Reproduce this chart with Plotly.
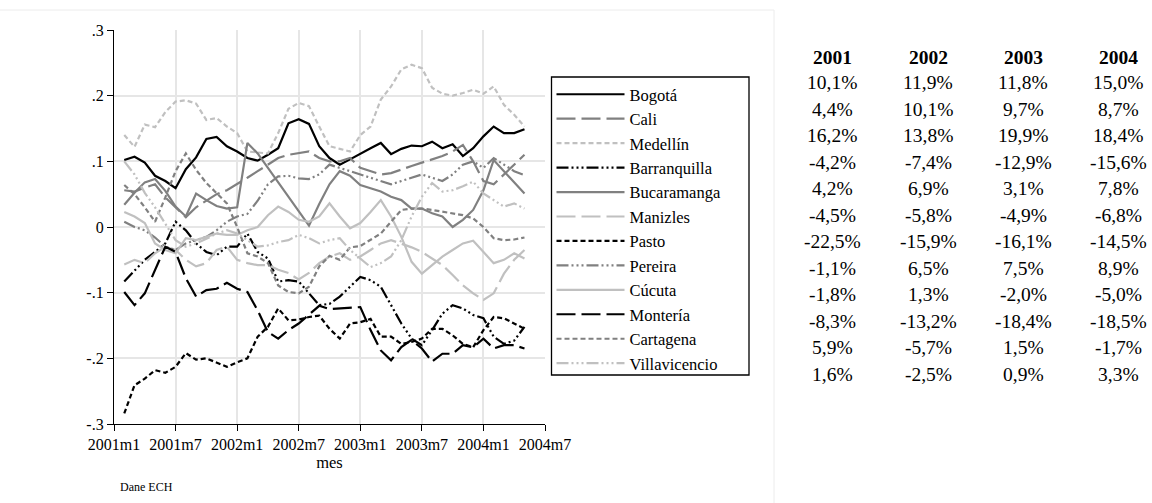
import plotly.graph_objects as go

# ---------------- data ----------------
meses = list(range(1, 41))  # month index after 2001m1 : 2001m2 ... 2004m5
tick_pos = [0, 6, 12, 18, 24, 30, 36, 42]
tick_labels = ["2001m1", "2001m7", "2002m1", "2002m7", "2003m1", "2003m7", "2004m1", "2004m7"]
y_ticks = [-0.3, -0.2, -0.1, 0, 0.1, 0.2, 0.3]
y_labels = ["-.3", "-.2", "-.1", "0", ".1", ".2", ".3"]

ciudades = ["Bogotá", "Cali", "Medellín", "Barranquilla", "Bucaramanga", "Manizles",
            "Pasto", "Pereira", "Cúcuta", "Montería", "Cartagena", "Villavicencio"]

bogota = [0.102, 0.107, 0.098, 0.078, 0.070, 0.059, 0.088, 0.106, 0.134, 0.137, 0.123,
          0.115, 0.105, 0.101, 0.110, 0.120, 0.158, 0.164, 0.157, 0.123, 0.105, 0.095, 0.103,
          0.112, 0.120, 0.128, 0.111, 0.119, 0.124, 0.123, 0.130, 0.120, 0.126, 0.108, 0.120,
          0.138, 0.153, 0.143, 0.143, 0.149]
cali = [0.056, 0.054, 0.060, 0.065, 0.045, 0.030, 0.015, 0.030, 0.040, 0.050, 0.056,
        0.065, 0.075, 0.085, 0.095, 0.105, 0.110, 0.113, 0.115, 0.105, 0.100, 0.100, 0.105,
        0.090, 0.085, 0.080, 0.082, 0.088, 0.093, 0.098, 0.103, 0.108, 0.115, 0.125, 0.100,
        0.070, 0.065, 0.080, 0.095, 0.110]
medellin = [0.140, 0.122, 0.156, 0.152, 0.175, 0.191, 0.193, 0.188, 0.163, 0.166, 0.153,
            0.143, 0.115, 0.113, 0.112, 0.143, 0.180, 0.189, 0.184, 0.153, 0.123, 0.119, 0.115,
            0.140, 0.153, 0.194, 0.214, 0.240, 0.247, 0.242, 0.212, 0.203, 0.200, 0.204, 0.209,
            0.203, 0.214, 0.186, 0.171, 0.153]
barranquilla = [-0.083, -0.066, -0.050, -0.038, -0.025, 0.008, -0.005, -0.025, -0.038, -0.043, -0.030,
                -0.030, -0.010, -0.038, -0.048, -0.083, -0.081, -0.083, -0.101, -0.119, -0.117, -0.106, -0.091,
                -0.076, -0.081, -0.091, -0.119, -0.147, -0.170, -0.180, -0.157, -0.132, -0.119, -0.124, -0.134,
                -0.139, -0.167, -0.178, -0.173, -0.152]
bucaramanga = [0.034, 0.052, 0.068, 0.073, 0.055, 0.031, 0.016, 0.051, 0.041, 0.032, 0.028,
               0.030, 0.128, 0.112, 0.090, 0.068, 0.046, 0.024, 0.002, 0.035, 0.065, 0.085, 0.078,
               0.064, 0.059, 0.054, 0.046, 0.041, 0.028, 0.028, 0.021, 0.016, 0.000, 0.011, 0.026,
               0.056, 0.102, 0.085, 0.068, 0.051]
manizales = [-0.057, -0.050, -0.055, -0.040, -0.030, -0.035, -0.050, -0.060, -0.055, -0.035, -0.030,
             -0.050, -0.055, -0.058, -0.058, -0.065, -0.070, -0.080, -0.070, -0.055, -0.045, -0.040, -0.050,
             -0.045, -0.035, -0.025, -0.020, -0.025, -0.031, -0.038, -0.048, -0.058, -0.073, -0.089, -0.101,
             -0.111, -0.101, -0.071, -0.050, -0.035]
pasto = [-0.284, -0.241, -0.231, -0.218, -0.222, -0.213, -0.192, -0.202, -0.200, -0.207, -0.213,
         -0.206, -0.200, -0.167, -0.152, -0.124, -0.142, -0.141, -0.137, -0.135, -0.155, -0.170, -0.147,
         -0.145, -0.140, -0.167, -0.167, -0.178, -0.175, -0.170, -0.155, -0.155, -0.165, -0.178, -0.183,
         -0.157, -0.137, -0.139, -0.147, -0.155]
pereira = [0.008, 0.000, -0.005, -0.016, -0.030, -0.035, -0.025, -0.020, -0.015, -0.005, 0.008,
           0.016, 0.020, 0.040, 0.065, 0.077, 0.078, 0.074, 0.073, 0.080, 0.095, 0.090, 0.085,
           0.080, 0.075, 0.070, 0.065, 0.070, 0.075, 0.080, 0.075, 0.070, 0.080, 0.095, 0.100,
           0.090, 0.105, 0.095, 0.085, 0.079]
cucuta = [0.023, 0.016, 0.006, -0.025, -0.035, -0.040, -0.017, -0.020, -0.015, -0.010, -0.012,
          -0.012, -0.005, 0.000, 0.018, 0.031, 0.023, 0.011, 0.008, 0.016, 0.036, 0.016, -0.002,
          0.006, 0.023, 0.041, 0.016, -0.015, -0.053, -0.071, -0.058, -0.045, -0.035, -0.025, -0.021,
          -0.038, -0.055, -0.050, -0.040, -0.048]
monteria = [-0.099, -0.119, -0.101, -0.066, -0.030, -0.038, -0.078, -0.106, -0.096, -0.094, -0.085,
            -0.094, -0.099, -0.127, -0.160, -0.170, -0.157, -0.147, -0.134, -0.120, -0.125, -0.124, -0.123,
            -0.122, -0.157, -0.188, -0.203, -0.183, -0.172, -0.185, -0.205, -0.193, -0.193, -0.180, -0.183,
            -0.170, -0.185, -0.180, -0.180, -0.185]
cartagena = [0.064, 0.050, 0.030, 0.008, 0.045, 0.085, 0.112, 0.087, 0.067, 0.051, 0.036,
             0.000, -0.040, -0.045, -0.055, -0.089, -0.099, -0.101, -0.091, -0.060, -0.044, -0.050, -0.031,
             -0.029, -0.020, -0.010, 0.008, 0.026, 0.028, 0.028, 0.026, 0.023, 0.021, 0.018, 0.013,
             0.000, -0.017, -0.020, -0.019, -0.016]
villavicencio = [0.100, 0.080, 0.052, 0.030, 0.005, -0.020, -0.030, -0.025, -0.018, -0.010, -0.005,
                 -0.010, -0.020, -0.030, -0.028, -0.023, -0.020, -0.012, -0.017, -0.025, -0.020, -0.017, -0.035,
                 -0.048, -0.061, -0.055, -0.045, -0.020, 0.016, 0.046, 0.067, 0.054, 0.056, 0.062, 0.069,
                 0.051, 0.041, 0.031, 0.036, 0.028]

series = [bogota, cali, medellin, barranquilla, bucaramanga, manizales,
          pasto, pereira, cucuta, monteria, cartagena, villavicencio]

# annual averages table (percent)
anios = ["2001", "2002", "2003", "2004"]
tab2001 = [10.1, 4.4, 16.2, -4.2, 4.2, -4.5, -22.5, -1.1, -1.8, -8.3, 5.9, 1.6]
tab2002 = [11.9, 10.1, 13.8, -7.4, 6.9, -5.8, -15.9, 6.5, 1.3, -13.2, -5.7, -2.5]
tab2003 = [11.8, 9.7, 19.9, -12.9, 3.1, -4.9, -16.1, 7.5, -2.0, -18.4, 1.5, 0.9]
tab2004 = [15.0, 8.7, 18.4, -15.6, 7.8, -6.8, -14.5, 8.9, -5.0, -18.5, -1.7, 3.3]
tabla = [tab2001, tab2002, tab2003, tab2004]

# ---------------- styles ----------------
BLACK, MID, LIGHT = "#000000", "#808080", "#c0c0c0"
SOLID = "solid"
LONG = "19px,6px"
SHORT = "5px,3px"
DDOT = "12px,3px,2px,3px,2px,3px,2px,3px"
estilos = [
    (BLACK, SOLID), (MID, LONG), (LIGHT, SHORT),
    (BLACK, DDOT), (MID, SOLID), (LIGHT, LONG),
    (BLACK, SHORT), (MID, DDOT), (LIGHT, SOLID),
    (BLACK, LONG), (MID, SHORT), (LIGHT, DDOT),
]

FONT = "Liberation Serif, Times New Roman, serif"
W, H = 1152, 503
L, R, T, B = 114, 607, 30, 79
PW, PH = W - L - R, H - T - B


def px(x):
    return (x - L) / PW


def py(y):
    return (H - B - y) / PH


fig = go.Figure()
for name, vals, (col, dash) in zip(ciudades, series, estilos):
    fig.add_trace(go.Scatter(
        x=meses, y=vals, name=name, mode="lines",
        line=dict(color=col, width=2.2, dash=dash),
    ))

grid = "#e6e6e6"
fig.update_xaxes(
    range=[0, 42], tickmode="array", tickvals=tick_pos, ticktext=tick_labels,
    showgrid=True, gridcolor=grid, gridwidth=1.5,
    showline=True, linecolor="black", linewidth=1.3,
    ticks="outside", ticklen=6, tickcolor="black", tickwidth=1.3,
    tickfont=dict(family=FONT, size=16, color="black"),
    title=dict(text="mes", font=dict(family=FONT, size=16.5, color="black"), standoff=2),
    zeroline=False,
)
fig.update_yaxes(
    range=[-0.3, 0.3], tickmode="array", tickvals=y_ticks, ticktext=y_labels,
    showgrid=True, gridcolor=grid, gridwidth=1.5,
    showline=True, linecolor="black", linewidth=1.3,
    ticks="outside", ticklen=6, tickcolor="black", tickwidth=1.3,
    tickfont=dict(family=FONT, size=16, color="black"),
    zeroline=False,
)

annotations = []
# table header + cells
col_x = [832, 928, 1023, 1118]
for j, (anio, vals) in enumerate(zip(anios, tabla)):
    annotations.append(dict(
        x=px(col_x[j]), y=py(57), xref="paper", yref="paper",
        text="<b>%s</b>" % anio, showarrow=False, xanchor="center", yanchor="middle",
        font=dict(family=FONT, size=19.5, color="black")))
    for i, v in enumerate(vals):
        txt = ("%.1f%%" % v).replace(".", ",")
        annotations.append(dict(
            x=px(col_x[j]), y=py(82.5 + 26.5 * i), xref="paper", yref="paper",
            text=txt, showarrow=False, xanchor="center", yanchor="middle",
            font=dict(family=FONT, size=19.5, color="black")))

annotations.append(dict(
    x=px(118), y=py(487), xref="paper", yref="paper", text="Dane ECH",
    showarrow=False, xanchor="left", yanchor="middle",
    font=dict(family=FONT, size=12, color="black")))

shapes = [
    # legend frame
    dict(type="rect", xref="paper", yref="paper",
         x0=px(551.5), x1=px(749), y0=py(375), y1=py(77),
         line=dict(color="black", width=1.3), fillcolor="rgba(0,0,0,0)"),
    # faint outer graph-region border
    dict(type="line", xref="paper", yref="paper",
         x0=px(774), x1=px(774), y0=py(10), y1=py(503),
         line=dict(color="#ececec", width=1)),
    dict(type="line", xref="paper", yref="paper",
         x0=px(0), x1=px(774), y0=py(10), y1=py(10),
         line=dict(color="#ececec", width=1)),
]

fig.update_layout(
    width=W, height=H,
    margin=dict(l=L, r=R, t=T, b=B, autoexpand=False),
    paper_bgcolor="white", plot_bgcolor="white",
    font=dict(family=FONT, color="black"),
    showlegend=True,
    legend=dict(
        x=px(551.5), y=py(77), xanchor="left", yanchor="top",
        xref="paper", yref="paper",
        bgcolor="rgba(0,0,0,0)", borderwidth=0,
        font=dict(family=FONT, size=16.5, color="black"),
        itemwidth=68, traceorder="normal",
    ),
    annotations=annotations,
    shapes=shapes,
)

fig.write_html("out.html", config={"displayModeBar": False},
               post_script="document.body.style.margin='0px';")
